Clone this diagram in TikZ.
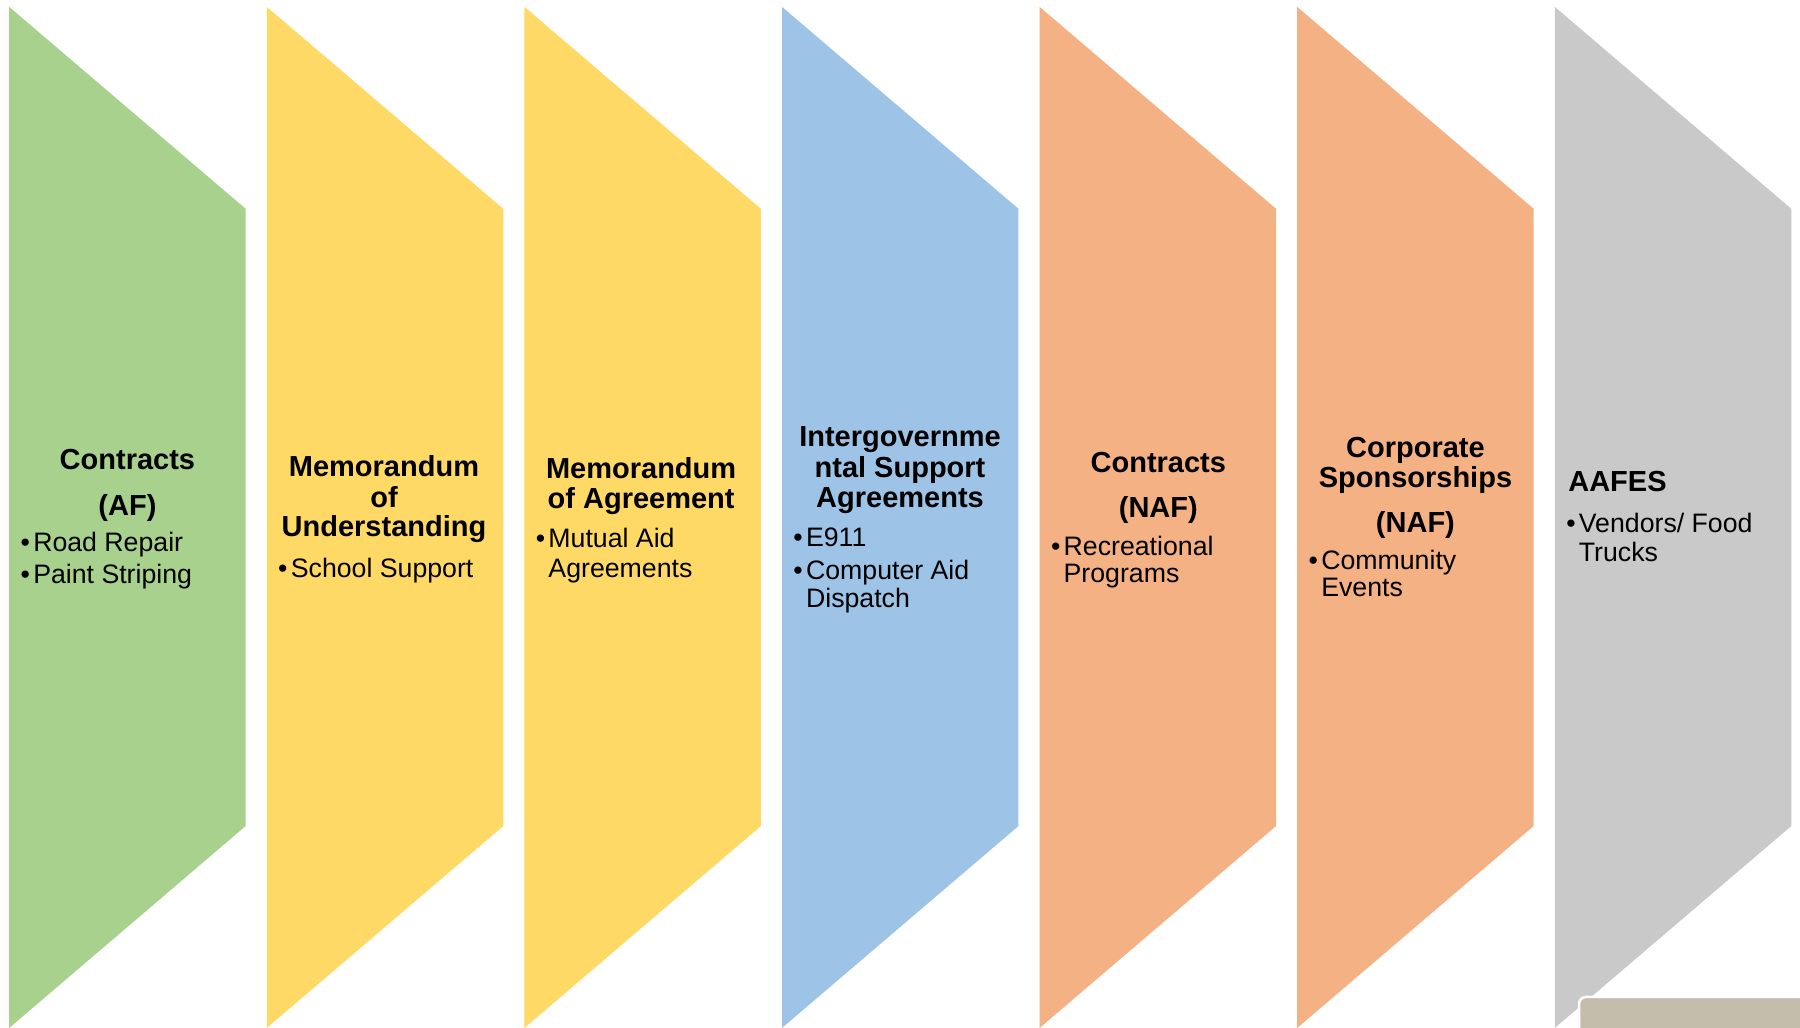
\documentclass[tikz,border=0pt]{standalone}
\usepackage{fontspec}
\setmainfont{Liberation Sans}
\definecolor{cgreen}{HTML}{A9D18E}
\definecolor{cyellow}{HTML}{FFD966}
\definecolor{cblue}{HTML}{9DC3E6}
\definecolor{corange}{HTML}{F4B183}
\definecolor{cgrey}{HTML}{C9C9C9}
\definecolor{ctan}{HTML}{C4BDAC}
\tikzset{
  ttl/.style={font=\fontsize{29}{30}\selectfont\bfseries, inner sep=0pt, text height=20.8pt, text depth=0pt},
  ttlw/.style={ttl, anchor=west},
  bod/.style={font=\fontsize{26.7}{28}\selectfont, inner sep=0pt, text height=19.1pt, text depth=0pt, anchor=west},
}
\begin{document}
\begin{tikzpicture}[x=1.148pt,y=-1.1473pt]
\useasboundingbox (0,0) rectangle (1568,896);
\foreach \i/\c in {0/cgreen,1/cyellow,2/cyellow,3/cblue,4/corange,5/corange,6/cgrey}{
  \pgfmathsetmacro\L{8+224.4*\i}
  \fill[\c] (\L,6) -- (\L+206,182) -- (\L+206,720) -- (\L,896) -- cycle;
}
\fill[ctan, draw=white, line width=2.5pt, rounded corners=7pt] (1375.5,869) rectangle (1600,920);

% column 1
\node[ttl] (t1a) at (111,400) {Contracts};
\node[ttl] (t1b) at (111,440) {(AF)};
\node[bod] (u1a) at (17.8,472.5) {•};
\node[bod] (s1a) at (28.8,472.5) {Road Repair};
\node[bod] (u1b) at (17.8,500.5) {•};
\node[bod] (s1b) at (28.8,500.5) {Paint Striping};

% column 2
\node[ttl] (t2a) at (334.5,406) {Memorandum};
\node[ttl] (t2b) at (334.5,433) {of};
\node[ttl] (t2c) at (334.5,459) {Understanding};
\node[bod] (u2a) at (242.2,495) {•};
\node[bod] (s2a) at (253.2,495) {School Support};

% column 3
\node[ttl] (t3a) at (558.5,408) {Memorandum};
\node[ttl] (t3b) at (558.5,434) {of Agreement};
\node[bod] (u3a) at (466.6,469.2) {•};
\node[bod] (s3a) at (477.6,469.2) {Mutual Aid};
\node[bod] (s3b) at (477.6,494.8) {Agreements};

% column 4
\node[ttl] (t4a) at (784,380) {Intergovernme};
\node[ttl] (t4b) at (784,407) {ntal Support};
\node[ttl] (t4c) at (784,433) {Agreements};
\node[bod] (u4a) at (691,468) {•};
\node[bod] (s4a) at (702,468) {E911};
\node[bod] (u4b) at (691,497) {•};
\node[bod] (s4b) at (702,497) {Computer Aid};
\node[bod] (s4c) at (702,521) {Dispatch};

% column 5
\node[ttl] (t5a) at (1009,403) {Contracts};
\node[ttl] (t5b) at (1009,442) {(NAF)};
\node[bod] (u5a) at (915.4,476) {•};
\node[bod] (s5a) at (926.4,476) {Recreational};
\node[bod] (s5b) at (926.4,499) {Programs};

% column 6
\node[ttl] (t6a) at (1233,390) {Corporate};
\node[ttl] (t6b) at (1233,416) {Sponsorships};
\node[ttl] (t6c) at (1233,455) {(NAF)};
\node[bod] (u6a) at (1139.8,488) {•};
\node[bod] (s6a) at (1150.8,488) {Community};
\node[bod] (s6b) at (1150.8,512) {Events};

% column 7
\node[ttlw] (t7a) at (1366,419) {AAFES};
\node[bod] (u7a) at (1364.2,456) {•};
\node[bod] (s7a) at (1375.2,456) {Vendors/ Food};
\node[bod] (s7b) at (1375.2,481) {Trucks};
\end{tikzpicture}
\end{document}
